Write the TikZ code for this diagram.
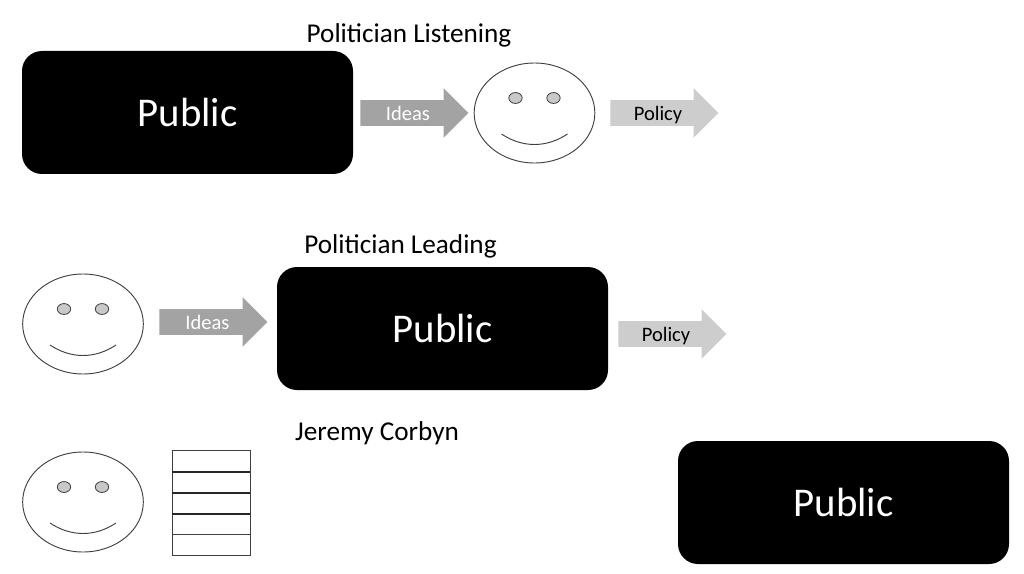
\documentclass[tikz,border=0pt]{standalone}
\usepackage{fontspec}
\setmainfont{Carlito}
\usetikzlibrary{shapes.geometric,shapes.arrows}
\definecolor{ideafill}{HTML}{A3A3A3}
\definecolor{policyfill}{HTML}{CDCDCD}
\definecolor{eyefill}{HTML}{C8C8C8}
\definecolor{outline}{HTML}{404040}
\tikzset{
  x=0.75pt,y=-0.75pt,
  publicbox/.style={rectangle,rounded corners=15pt,fill=black,text=white,inner sep=0pt,
    text height=21pt,text depth=0pt,
    minimum width=248.25pt,minimum height=92.25pt,font=\fontsize{30.6}{36}\selectfont},
  title/.style={inner sep=0pt,text=black,font=\fontsize{20.4}{24}\selectfont},
  flow/.style={single arrow,draw=none,inner sep=0pt,text height=18.75pt,text depth=0pt,
    minimum width=36.75pt,minimum height=81pt,single arrow head extend=9pt,anchor=tail},
  ideasarrow/.style={flow,fill=ideafill},
  policyarrow/.style={flow,fill=policyfill},
  flowtext/.style={inner sep=0pt,anchor=base,font=\fontsize{15.4}{18}\selectfont},
  head/.style={ellipse,draw=outline,line width=0.7pt,fill=white,inner sep=0pt,
    minimum width=90.5pt,minimum height=75pt},
  eye/.style={ellipse,draw=outline,line width=0.6pt,fill=eyefill,inner sep=0pt,
    minimum width=10pt,minimum height=8.2pt},
  mouth/.style={draw=outline,line width=0.7pt},
  row/.style={rectangle,draw=outline,line width=0.7pt,inner sep=0pt,minimum width=58.5pt,minimum height=15.75pt,anchor=north},
  divider/.style={draw=black!85,line width=1.2pt}
}
% A face: head outline, two eyes and a smile around a named centre
\newcommand{\smiley}[3]{%
  \node[head] (#1) at (#2,#3) {};
  \node[eye] (#1eyeL) at (#2-19,#3-15) {};
  \node[eye] (#1eyeR) at (#2+19,#3-15) {};
  \coordinate (#1mouthL) at (#2-33,#3+21);
  \coordinate (#1mouthR) at (#2+33,#3+21);
  \draw[mouth] (#1mouthL) .. controls (#2-12,#3+35) and (#2+12,#3+35) .. (#1mouthR);
}
\begin{document}
\begin{tikzpicture}
\useasboundingbox (0,0) rectangle (1024,574);

% Politician listening
\node[title] (t1) at (409,35) {Politician Listening};
\node[publicbox] (p1) at (187.5,112.5) {Public};
\node[ideasarrow] (a1) at (360,113) {};
\node[flowtext,text=white] (a1t) at (408,120.7) {Ideas};
\smiley{f1}{534.5}{113}
\node[policyarrow] (b1) at (610,113) {};
\node[flowtext,text=black] (b1t) at (658,120.7) {Policy};

% Politician leading
\node[title] (t2) at (400.5,246) {Politician Leading};
\smiley{f2}{83}{324}
\node[ideasarrow] (a2) at (159,322) {};
\node[flowtext,text=white] (a2t) at (207.5,329) {Ideas};
\node[publicbox] (p2) at (442.5,328.5) {Public};
\node[policyarrow] (b2) at (618,334) {};
\node[flowtext,text=black] (b2t) at (666,341) {Policy};

% Jeremy Corbyn
\node[title] (t3) at (377,433) {Jeremy Corbyn};
\smiley{f3}{83}{502}
\node[row] (r1) at (211,450) {};
\node[row] (r2) at (211,471) {};
\node[row] (r3) at (211,492) {};
\node[row] (r4) at (211,513) {};
\node[row] (r5) at (211,534) {};
\draw[divider] (r1.south west) -- (r1.south east);
\draw[divider] (r2.south west) -- (r2.south east);
\draw[divider] (r3.south west) -- (r3.south east);
\node[publicbox] (p3) at (843.5,502.5) {Public};
\end{tikzpicture}
\end{document}
